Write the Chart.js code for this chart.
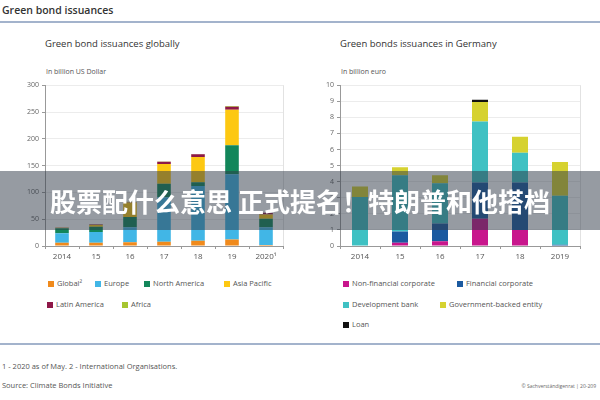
<!DOCTYPE html>
<html>
<head>
<meta charset="utf-8">
<script src="https://cdn.jsdelivr.net/npm/chart.js@4/dist/chart.umd.min.js"></script>
<style>
  body { margin: 0; width: 600px; height: 400px; position: relative; background: #fff; overflow: hidden;
         font-family: "Open Sans", "Liberation Sans", sans-serif; color: #444; }
  .abs { position: absolute; white-space: nowrap; }
  .rule { position: absolute; left: 0; width: 600px; height: 2px; background: #a3b3cc; }
  .box { position: absolute; }
  .leg { position: absolute; font-size: 7.5px; color: #555; line-height: 8px; white-space: nowrap; }
  .leg i { display: inline-block; width: 6px; height: 6px; margin-right: 3px; vertical-align: -0.5px; }
  .band { position: absolute; left: 0; top: 171px; width: 600px; height: 59px; background: rgba(45,55,70,0.5);
          color: #fff; font: bold 26px "Noto Sans CJK SC", sans-serif; text-align: center; line-height: 59px; }
</style>
</head>
<body>
<div class="abs" style="left:2px;top:3px;font-size:10.5px;font-weight:600;color:#333">Green bond issuances</div>
<div class="rule" style="top:21px"></div>

<div class="abs" style="left:45px;top:37px;font-size:9.5px;color:#333">Green bond issuances globally</div>
<div class="abs" style="left:46px;top:67px;font-size:7px;color:#555">In billion US Dollar</div>
<div class="abs" style="left:340px;top:37px;font-size:9.5px;color:#333">Green bonds issuances in Germany</div>
<div class="abs" style="left:341px;top:67px;font-size:7px;color:#555">In billion euro</div>

<div class="box" style="left:15px;top:78px;width:275px;height:188px"><canvas id="left"></canvas></div>
<div class="box" style="left:310px;top:78px;width:277px;height:188px"><canvas id="right"></canvas></div>

<div id="legLeft"></div>
<div id="legRight"></div>

<div class="rule" style="top:343px"></div>
<div class="abs" style="left:2px;top:361px;font-size:7.5px;color:#555">1 - 2020 as of May. 2 - International Organisations.</div>
<div class="abs" style="left:2px;top:380px;font-size:7.5px;color:#555">Source: Climate Bonds Initiative</div>
<div class="abs" style="right:4px;top:383px;font-size:5px;color:#666">© Sachverständigenrat | 20-209</div>

<div class="band">股票配什么意思 正式提名！特朗普和他搭档</div>

<script>
const globalYears = ['2014', '15', '16', '17', '18', '19', '2020¹']
const globalOrg = [6, 6, 7, 8, 10, 12, 2]
const europe = [18, 20, 28, 83, 102, 122, 33]
const northAmerica = [9, 10, 19, 25, 7, 54, 16]
const asiaPacific = [1, 3, 27, 37, 47, 66, 8]
const latinAmerica = [0.5, 1, 1, 4, 5, 6, 3]
const africa = [0, 0.5, 0.5, 0.5, 0.5, 1, 0]

const germanyYears = ['2014', '15', '16', '17', '18', '2019']
const nonFinancial = [0, 0.2, 0.3, 1.7, 1.0, 0]
const financial = [0, 0.7, 1.1, 2.25, 2.95, 0.08]
const devBank = [3.05, 3.5, 2.5, 3.8, 1.85, 3.05]
const govBacked = [0.65, 0.5, 0.5, 1.2, 1.0, 2.1]
const loan = [0, 0, 0, 0.15, 0, 0]

const FONT = '"Open Sans", "Liberation Sans", sans-serif'

const leftSeries = [
  { label: 'Global²', data: globalOrg, color: '#f08a1c', x: 48, y: 279 },
  { label: 'Europe', data: europe, color: '#41b6e6', x: 95, y: 279 },
  { label: 'North America', data: northAmerica, color: '#12865a', x: 144, y: 279 },
  { label: 'Asia Pacific', data: asiaPacific, color: '#fdc812', x: 224, y: 279 },
  { label: 'Latin America', data: latinAmerica, color: '#8e1848', x: 47, y: 300 },
  { label: 'Africa', data: africa, color: '#a6c531', x: 122, y: 300 },
]

const rightSeries = [
  { label: 'Non-financial corporate', data: nonFinancial, color: '#c8168c', x: 343, y: 279 },
  { label: 'Financial corporate', data: financial, color: '#1b5aa0', x: 457, y: 279 },
  { label: 'Development bank', data: devBank, color: '#3fc1c3', x: 343, y: 300 },
  { label: 'Government-backed entity', data: govBacked, color: '#d6d230', x: 440, y: 300 },
  { label: 'Loan', data: loan, color: '#111111', x: 343, y: 320 },
]

const makeChart = (id, labels, series, max, step) => {
  new Chart(document.getElementById(id), {
    type: 'bar',
    data: {
      labels,
      datasets: series.map((s) => ({
        label: s.label, data: s.data, backgroundColor: s.color,
        borderWidth: 0, categoryPercentage: 1, barPercentage: 0.4,
      })),
    },
    options: {
      responsive: true,
      maintainAspectRatio: false,
      animation: false,
      layout: { padding: { top: 6, right: 7, left: 0, bottom: 0 } },
      plugins: { legend: { display: false }, tooltip: { enabled: false } },
      scales: {
        x: {
          stacked: true,
          grid: {
            offset: true,
            color: (ctx) => (ctx.type === 'tick' ? 'rgba(0,0,0,0)' : '#e2e2e2'),
            tickColor: '#999', tickLength: 3,
          },
          border: { color: '#999' },
          ticks: { font: { size: 8, family: FONT }, color: '#555', padding: 3, maxRotation: 0 },
          afterFit: (s) => { s.height = 20 },
        },
        y: {
          stacked: true, min: 0, max,
          ticks: { stepSize: step, font: { size: 7, family: FONT }, color: '#666', padding: 3 },
          grid: { color: '#ececec', tickColor: '#999', tickLength: 3 },
          border: { color: '#999' },
          afterFit: (s) => { s.width = 30 },
        },
      },
    },
  })
}

const makeLegend = (id, series) => {
  const root = document.getElementById(id)
  series.forEach((s) => {
    const el = document.createElement('div')
    el.className = 'leg'
    el.style.left = s.x + 'px'
    el.style.top = s.y + 'px'
    el.innerHTML = '<i style="background:' + s.color + '"></i>' + s.label
    root.appendChild(el)
  })
}

makeChart('left', globalYears, leftSeries, 300, 50)
makeChart('right', germanyYears, rightSeries, 10, 1)
makeLegend('legLeft', leftSeries)
makeLegend('legRight', rightSeries)
</script>
</body>
</html>
